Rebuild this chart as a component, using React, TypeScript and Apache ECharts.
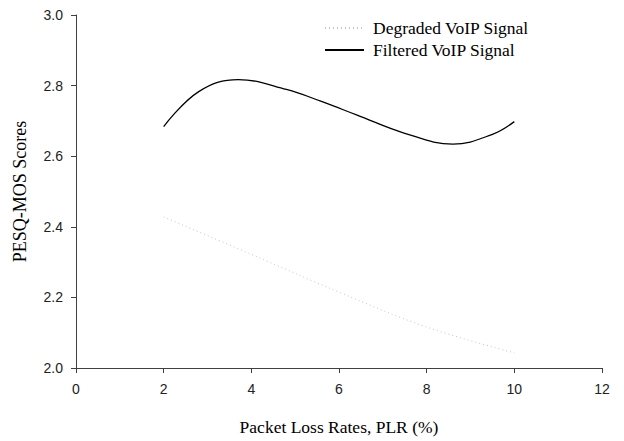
import React, { useEffect, useRef } from "react";
import * as echarts from "echarts";

const degradedPlr = [2, 4, 6, 8, 10];
const degradedScores = [2.428, 2.322, 2.215, 2.116, 2.043];
const filteredPlr = [2, 2.8, 3.7, 4.8, 5.6, 6.4, 7.5, 8.6, 9.5, 10];
const filteredScores = [2.684, 2.783, 2.817, 2.789, 2.755, 2.717, 2.665, 2.634, 2.662, 2.698];
const seriesNames = ["Degraded VoIP Signal", "Filtered VoIP Signal"];

export default function App() {
  const ref = useRef<HTMLDivElement>(null);
  useEffect(() => {
    if (!ref.current) return;
    const chart = echarts.init(ref.current, undefined, { renderer: "svg" });
    const axisColor = "#404040";
    const serif = "'Liberation Serif', 'Times New Roman', serif";
    const sans = "'Liberation Sans', Arial, sans-serif";
    chart.setOption({
      animation: false,
      backgroundColor: "#ffffff",
      grid: { left: 76, right: 22, top: 15, bottom: 62 },
      legend: {
        left: 319,
        top: 14,
        orient: "vertical",
        itemWidth: 39,
        itemHeight: 10,
        itemGap: 4,
        itemStyle: { opacity: 0 },
        textStyle: { fontFamily: serif, fontSize: 17.5, color: "#000", padding: [0, 0, 0, 4] },
        data: seriesNames,
      },
      xAxis: {
        type: "value",
        min: 0,
        max: 12,
        interval: 2,
        name: "Packet Loss Rates, PLR (%)",
        nameLocation: "middle",
        nameGap: 50,
        nameTextStyle: { fontFamily: serif, fontSize: 17.5, color: "#000" },
        axisLine: { show: true, lineStyle: { color: axisColor, width: 1 } },
        axisTick: { show: true, length: 5, lineStyle: { color: axisColor } },
        axisLabel: { margin: 14, fontFamily: sans, fontSize: 14, color: "#222" },
        splitLine: { show: false },
      },
      yAxis: {
        type: "value",
        min: 2.0,
        max: 3.0,
        interval: 0.2,
        name: "PESQ-MOS Scores",
        nameLocation: "middle",
        nameGap: 47,
        nameTextStyle: { fontFamily: serif, fontSize: 18, color: "#000" },
        axisLine: { show: true, lineStyle: { color: axisColor, width: 1 } },
        axisTick: { show: true, length: 5, lineStyle: { color: axisColor } },
        axisLabel: {
          margin: 13,
          fontFamily: sans,
          fontSize: 14,
          color: "#222",
          formatter: (v: number) => v.toFixed(1),
        },
        splitLine: { show: false },
      },
      series: [
        {
          name: seriesNames[0],
          type: "line",
          data: degradedPlr.map((x, i) => [x, degradedScores[i]]),
          smooth: 0.4,
          symbol: "none",
          lineStyle: { color: "#c4c4c4", width: 1, type: [1, 3] },
          itemStyle: { color: "#c4c4c4" },
        },
        {
          name: seriesNames[1],
          type: "line",
          data: filteredPlr.map((x, i) => [x, filteredScores[i]]),
          smooth: 0.4,
          symbol: "none",
          lineStyle: { color: "#000", width: 1.3 },
          itemStyle: { color: "#000" },
        },
      ],
    });
    return () => chart.dispose();
  }, []);
  return <div ref={ref} style={{ width: 624, height: 441, position: "absolute", left: 0, top: 0 }} />;
}
